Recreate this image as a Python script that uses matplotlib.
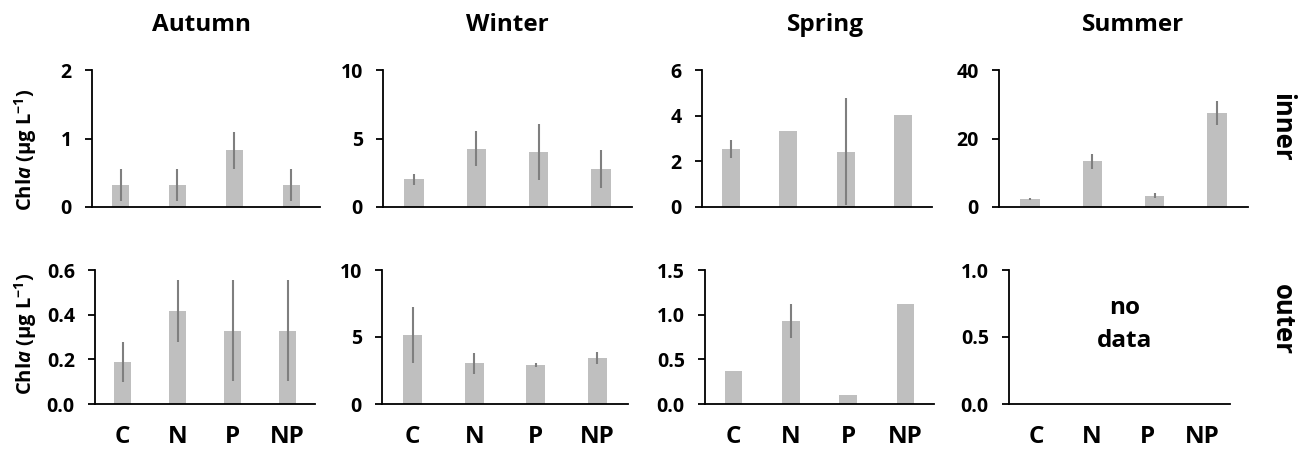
import numpy as np
import matplotlib
matplotlib.use("Agg")
import matplotlib.pyplot as plt

plt.rcParams['font.family'] = ['Open Sans', 'DejaVu Sans']
plt.rcParams['font.weight'] = 'bold'
plt.rcParams['mathtext.fontset'] = 'custom'
plt.rcParams['mathtext.rm'] = 'Open Sans:bold'
plt.rcParams['mathtext.bf'] = 'Open Sans:bold'
plt.rcParams['mathtext.it'] = 'Open Sans:italic:bold'

# ---- data ----
categories = ['C', 'N', 'P', 'NP']
seasons = ['Autumn', 'Winter', 'Spring', 'Summer']
rows = ['inner', 'outer']

inner_autumn = [0.32, 0.32, 0.83, 0.32]
inner_autumn_err = [0.23, 0.23, 0.27, 0.23]
inner_winter = [2.02, 4.27, 4.00, 2.76]
inner_winter_err = [0.40, 1.26, 2.06, 1.37]
inner_spring = [2.54, 3.31, 2.43, 4.04]
inner_spring_err = [0.38, 0.0, 2.36, 0.0]
inner_summer = [2.34, 13.37, 3.32, 27.4]
inner_summer_err = [0.3, 2.25, 0.65, 3.6]

outer_autumn = [0.188, 0.416, 0.328, 0.328]
outer_autumn_err = [0.088, 0.14, 0.227, 0.227]
outer_winter = [5.12, 3.03, 2.89, 3.43]
outer_winter_err = [2.09, 0.81, 0.14, 0.42]
outer_spring = [0.366, 0.925, 0.097, 1.116]
outer_spring_err = [0.0, 0.19, 0.0, 0.0]
outer_summer = None  # no data

inner_ticks = [[0, 1, 2], [0, 5, 10], [0, 2, 4, 6], [0, 20, 40]]
outer_ticks = [[0.0, 0.2, 0.4, 0.6], [0, 5, 10], [0.0, 0.5, 1.0, 1.5], [0.0, 0.5, 1.0]]
inner_fmt = ['{:.0f}', '{:.0f}', '{:.0f}', '{:.0f}']
outer_fmt = ['{:.1f}', '{:.0f}', '{:.1f}', '{:.1f}']

series = [
    [(inner_autumn, inner_autumn_err), (inner_winter, inner_winter_err),
     (inner_spring, inner_spring_err), (inner_summer, inner_summer_err)],
    [(outer_autumn, outer_autumn_err), (outer_winter, outer_winter_err),
     (outer_spring, outer_spring_err), None],
]
ticks = [inner_ticks, outer_ticks]
fmts = [inner_fmt, outer_fmt]

# axes boxes in pixels: (left, right) per column, (top, bottom) per row
W, H = 1304, 451
col_lr = [[(92, 320), (383, 632), (702, 932), (999, 1248)],
          [(95, 315), (382, 628), (705, 934), (1009, 1230)]]
row_tb = [(70, 207), (270, 404)]

bar_c = '#bfbfbf'
err_c = '#7f7f7f'

fig = plt.figure(figsize=(W / 100, H / 100), dpi=100)
x = np.arange(len(categories)) + 0.5

for r in range(2):
    top, bot = row_tb[r]
    for c in range(4):
        l, rr = col_lr[r][c]
        ax = fig.add_axes([l / W, 1 - bot / H, (rr - l) / W, (bot - top) / H])
        d = series[r][c]
        if d is not None:
            vals, errs = d
            ax.bar(x, vals, width=0.31, color=bar_c, zorder=2)
            ax.errorbar(x, vals, yerr=errs, fmt='none', ecolor=err_c,
                        elinewidth=1.5, capsize=0, zorder=3)
        else:
            ax.text(2.1, 0.59, 'no\ndata', ha='center', va='center',
                    fontsize=17.5, fontweight='bold', linespacing=1.5)
        tk = ticks[r][c]
        ax.set_ylim(tk[0], tk[-1])
        ax.set_yticks(tk)
        ax.set_yticklabels([fmts[r][c].format(t) for t in tk])
        ax.set_xlim(0, 4)
        ax.set_xticks(x)
        if r == 1:
            ax.set_xticklabels(categories)
        else:
            ax.set_xticklabels([])
        for s in ['top', 'right']:
            ax.spines[s].set_visible(False)
        for s in ['left', 'bottom']:
            ax.spines[s].set_linewidth(1.3)
            ax.spines[s].set_color('black')
        ax.tick_params(axis='y', length=5, width=1.3, pad=9.5, labelsize=14)
        ax.tick_params(axis='x', length=0, pad=15, labelsize=17.5)

# column titles
title_x = [201, 507, 825, 1133]
for s, tx in zip(seasons, title_x):
    fig.text(tx / W, 1 - 25 / H, s, ha='center', va='center',
             fontsize=17.5, fontweight='bold')

# row labels
for name, ty in zip(rows, [127, 320]):
    fig.text(1282 / W, 1 - ty / H, name, ha='center', va='center',
             rotation=-90, fontsize=18.5, fontweight='bold')

# y labels
ylab = r'Chl$\mathit{a}$ (µg L$^{\mathrm{-1}}$)'
for ty in [150, 334]:
    fig.text(26 / W, 1 - ty / H, ylab, ha='center', va='center',
             rotation=90, fontsize=14.5, fontweight='bold')

fig.savefig('out.png', dpi=100)
